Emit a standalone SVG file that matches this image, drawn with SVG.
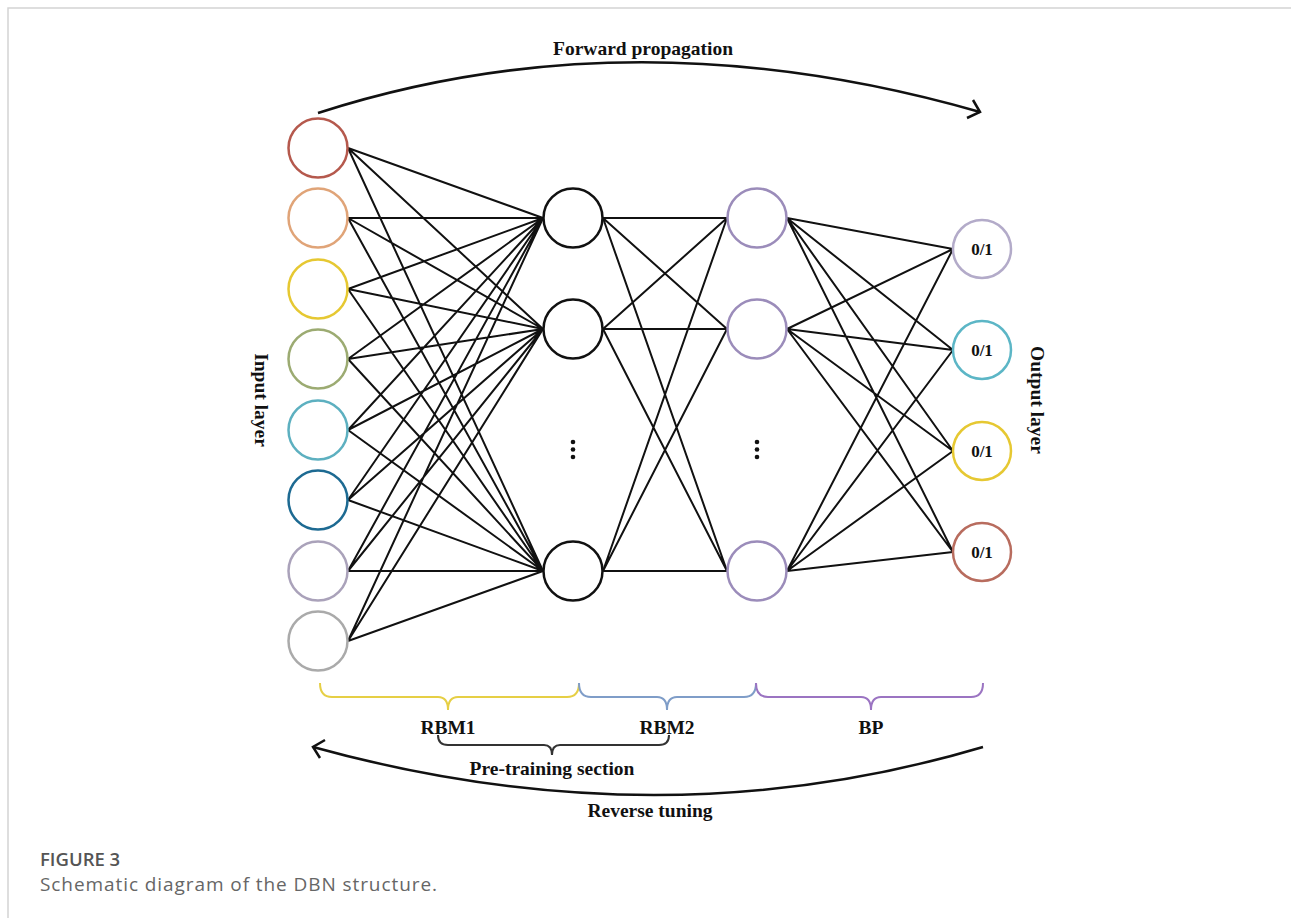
<svg xmlns="http://www.w3.org/2000/svg" width="1291" height="918" viewBox="0 0 1291 918">
<style>
.e{stroke:#111;stroke-width:2;fill:none}
.n{fill:#fff;stroke-width:2.5}
.t{font-family:"Liberation Serif","Times New Roman",serif;font-weight:bold;fill:#111}
.arc{stroke:#111;stroke-width:2.5;fill:none}
.dot{fill:#111}
</style>
<rect width="1291" height="918" fill="#fff"/>
<path d="M8 918 V8 H1291" stroke="#d4d4d4" stroke-width="1.5" fill="none"/>

<g id="forward">
<path class="arc" d="M318 113 Q631 12 980 112"/>
<polyline class="arc" points="973,100 980,112 967,118"/>
<text class="t" x="643" y="55" font-size="19.5" text-anchor="middle">Forward propagation</text>
</g>

<g id="connectors">
<path class="e" d="M348 148 L543 218 M348 148 L543 329 M348 148 L543 571
M348 218 L543 218 M348 218 L543 329 M348 218 L543 571
M348 289 L543 218 M348 289 L543 329 M348 289 L543 571
M348 359 L543 218 M348 359 L543 329 M348 359 L543 571
M348 430 L543 218 M348 430 L543 329 M348 430 L543 571
M348 500 L543 218 M348 500 L543 329 M348 500 L543 571
M348 571 L543 218 M348 571 L543 329 M348 571 L543 571
M348 641 L543 218 M348 641 L543 329 M348 641 L543 571"/>
<path class="e" d="M603 218 L727 218 M603 218 L727 329 M603 218 L727 571
M603 329 L727 218 M603 329 L727 329 M603 329 L727 571
M603 571 L727 218 M603 571 L727 329 M603 571 L727 571"/>
<path class="e" d="M787 218 L953 249 M787 218 L953 350 M787 218 L953 451 M787 218 L953 552
M787 329 L953 249 M787 329 L953 350 M787 329 L953 451 M787 329 L953 552
M787 571 L953 249 M787 571 L953 350 M787 571 L953 451 M787 571 L953 552"/>
</g>

<g id="input-layer">
<circle class="n" cx="318" cy="148" r="29.5" stroke="#b5594d"/>
<circle class="n" cx="318" cy="218" r="29.5" stroke="#e0a478"/>
<circle class="n" cx="318" cy="289" r="29.5" stroke="#e6c832"/>
<circle class="n" cx="318" cy="359" r="29.5" stroke="#9cab72"/>
<circle class="n" cx="318" cy="430" r="29.5" stroke="#5db0c0"/>
<circle class="n" cx="318" cy="500" r="29.5" stroke="#1d6a92"/>
<circle class="n" cx="318" cy="571" r="29.5" stroke="#aaa2ba"/>
<circle class="n" cx="318" cy="641" r="29.5" stroke="#aaaaaa"/>
<text class="t" transform="translate(261 400) rotate(90)" font-size="19.5" text-anchor="middle" dominant-baseline="central">Input layer</text>
</g>

<g id="hidden1">
<circle class="n" cx="573" cy="218" r="29.5" stroke="#111"/>
<circle class="n" cx="573" cy="329" r="29.5" stroke="#111"/>
<circle class="n" cx="573" cy="571" r="29.5" stroke="#111"/>
<circle class="dot" cx="573" cy="442" r="2.3"/>
<circle class="dot" cx="573" cy="449.5" r="2.3"/>
<circle class="dot" cx="573" cy="457" r="2.3"/>
</g>

<g id="hidden2">
<circle class="n" cx="757" cy="218" r="29.5" stroke="#9b8cba"/>
<circle class="n" cx="757" cy="329" r="29.5" stroke="#9b8cba"/>
<circle class="n" cx="757" cy="571" r="29.5" stroke="#9b8cba"/>
<circle class="dot" cx="757" cy="442" r="2.3"/>
<circle class="dot" cx="757" cy="449.5" r="2.3"/>
<circle class="dot" cx="757" cy="457" r="2.3"/>
</g>

<g id="output-layer">
<circle class="n" cx="982" cy="249" r="29" stroke="#b3abc9"/>
<circle class="n" cx="982" cy="350" r="29" stroke="#5cb6c6"/>
<circle class="n" cx="982" cy="451" r="29" stroke="#e6c832"/>
<circle class="n" cx="982" cy="552" r="29" stroke="#b86c5e"/>
<text class="t" x="982" y="255" font-size="17" text-anchor="middle">0/1</text>
<text class="t" x="982" y="356" font-size="17" text-anchor="middle">0/1</text>
<text class="t" x="982" y="457" font-size="17" text-anchor="middle">0/1</text>
<text class="t" x="982" y="558" font-size="17" text-anchor="middle">0/1</text>
<text class="t" transform="translate(1037 400) rotate(90)" font-size="19.5" text-anchor="middle" dominant-baseline="central">Output layer</text>
</g>

<g id="rbm1">
<path d="M320 683 Q320 697 332 697 L438 697 Q448 697 448 710 Q448 697 458 697 L567 697 Q579 697 579 683" stroke="#e6cf45" stroke-width="2" fill="none"/>
<text class="t" x="448" y="734" font-size="19.5" text-anchor="middle">RBM1</text>
</g>
<g id="rbm2">
<path d="M579 683 Q579 697 591 697 L657 697 Q667 697 667 710 Q667 697 677 697 L744 697 Q756 697 756 683" stroke="#7f9dc8" stroke-width="2" fill="none"/>
<text class="t" x="667" y="734" font-size="19.5" text-anchor="middle">RBM2</text>
</g>
<g id="bp">
<path d="M756 683 Q756 697 768 697 L861 697 Q871 697 871 710 Q871 697 881 697 L971 697 Q983 697 983 683" stroke="#9b74c2" stroke-width="2" fill="none"/>
<text class="t" x="871" y="734" font-size="19.5" text-anchor="middle">BP</text>
</g>
<g id="pretraining">
<path d="M438 735 Q438 745 448 745 L544 745 Q552 745 552 755 Q552 745 560 745 L659 745 Q669 745 669 735" stroke="#333" stroke-width="2" fill="none"/>
<text class="t" x="552" y="775" font-size="19.5" text-anchor="middle">Pre-training section</text>
</g>

<g id="reverse">
<path class="arc" d="M983 747 Q660 843 313 747"/>
<polyline class="arc" points="325,740 313,747 320,758"/>
<text class="t" x="650" y="817" font-size="19.5" text-anchor="middle">Reverse tuning</text>
</g>

<g id="caption">
<text x="40" y="866" font-family="'Open Sans','Noto Sans',sans-serif" font-weight="600" font-size="18.5" fill="#555">FIGURE 3</text>
<text x="40" y="891" font-family="'Open Sans','Noto Sans',sans-serif" font-size="19" fill="#666" textLength="397">Schematic diagram of the DBN structure.</text>
</g>
</svg>
